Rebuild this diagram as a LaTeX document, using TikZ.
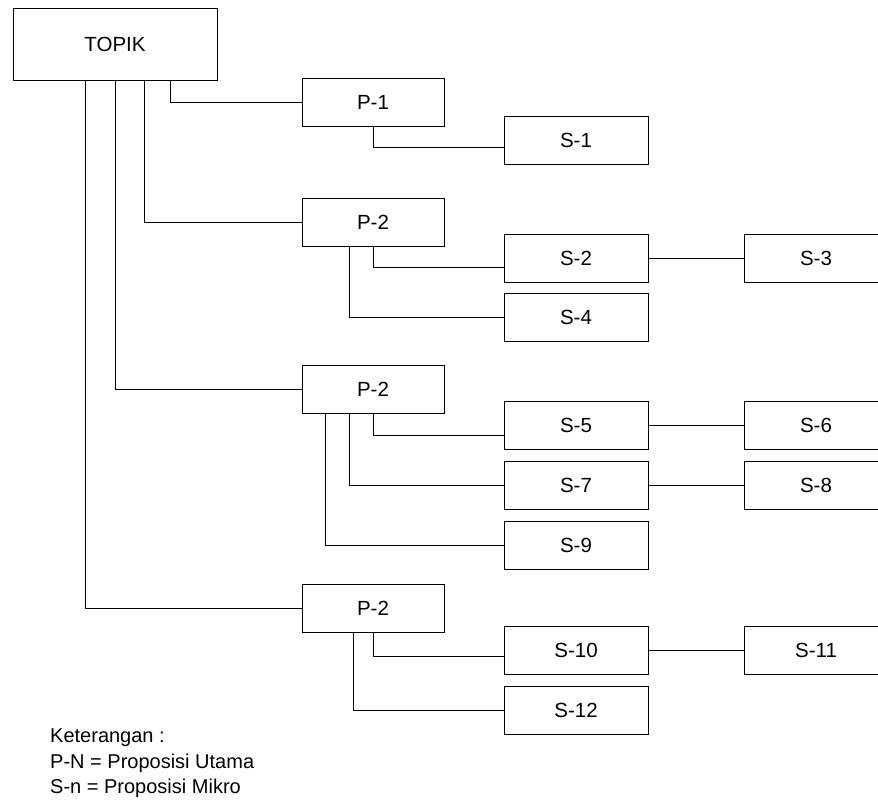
\documentclass[tikz,border=0pt]{standalone}
\usepackage{fontspec}
\setmainfont{Liberation Sans}
\begin{document}
\begin{tikzpicture}[x=1pt,y=-1pt,
  every node/.style={font=\fontsize{20.5}{24}\selectfont},
  topbox/.style={draw,line width=0.8pt,minimum width=204pt,minimum height=72pt,inner sep=0pt},
  pbox/.style={draw,line width=0.8pt,minimum width=142pt,minimum height=48pt,inner sep=0pt},
  sbox/.style={draw,line width=0.8pt,minimum width=144pt,minimum height=48pt,inner sep=0pt},
  legend/.style={anchor=west,inner sep=0pt,font=\fontsize{20}{24}\selectfont},
  link/.style={line width=0.8pt}]
\useasboundingbox (0,0) rectangle (878,800);
\begin{scope}
\clip (0,0) rectangle (878,800);

% root
\node[topbox] (topik) at (115,44) {TOPIK};

% main propositions
\node[pbox] (p1) at (373,102) {P-1};
\node[pbox] (p2) at (373,222) {P-2};
\node[pbox] (p3) at (373,389.5) {P-2};
\node[pbox] (p4) at (373,608) {P-2};

% micro propositions
\node[sbox] (s1)  at (576,140)   {S-1};
\node[sbox] (s2)  at (576,258)   {S-2};
\node[sbox] (s3)  at (816,258)   {S-3};
\node[sbox] (s4)  at (576,317)   {S-4};
\node[sbox] (s5)  at (576,425.5) {S-5};
\node[sbox] (s6)  at (816,425.5) {S-6};
\node[sbox] (s7)  at (576,485.5) {S-7};
\node[sbox] (s8)  at (816,485.5) {S-8};
\node[sbox] (s9)  at (576,545.5) {S-9};
\node[sbox] (s10) at (576,650.5) {S-10};
\node[sbox] (s11) at (816,650.5) {S-11};
\node[sbox] (s12) at (576,710)   {S-12};

% root to main propositions
\draw[link] ([xshift=55pt]topik.south) |- (p1.west);
\draw[link] ([xshift=29pt]topik.south) |- (p2.west);
\draw[link] ([xshift=0pt]topik.south)  |- (p3.west);
\draw[link] ([xshift=-30pt]topik.south) |- (p4.west);

% main to micro propositions
\draw[link] (p1.south) |- ([yshift=-7pt]s1.west);
\draw[link] (p2.south) |- ([yshift=-9pt]s2.west);
\draw[link] ([xshift=-24pt]p2.south) |- (s4.west);
\draw[link] (p3.south) |- ([yshift=-9.5pt]s5.west);
\draw[link] ([xshift=-24pt]p3.south) |- (s7.west);
\draw[link] ([xshift=-48pt]p3.south) |- (s9.west);
\draw[link] (p4.south) |- ([yshift=-5.5pt]s10.west);
\draw[link] ([xshift=-20pt]p4.south) |- (s12.west);

% micro to micro
\draw[link] (s2.east) -- (s3.west);
\draw[link] (s5.east) -- (s6.west);
\draw[link] (s7.east) -- (s8.west);
\draw[link] (s10.east) -- (s11.west);
\end{scope}

% legend
\node[legend] (k0) at (50,738) {Keterangan :};
\node[legend] (k1) at (50,763) {P-N = Proposisi Utama};
\node[legend] (k2) at (50,788) {S-n = Proposisi Mikro};
\end{tikzpicture}
\end{document}
